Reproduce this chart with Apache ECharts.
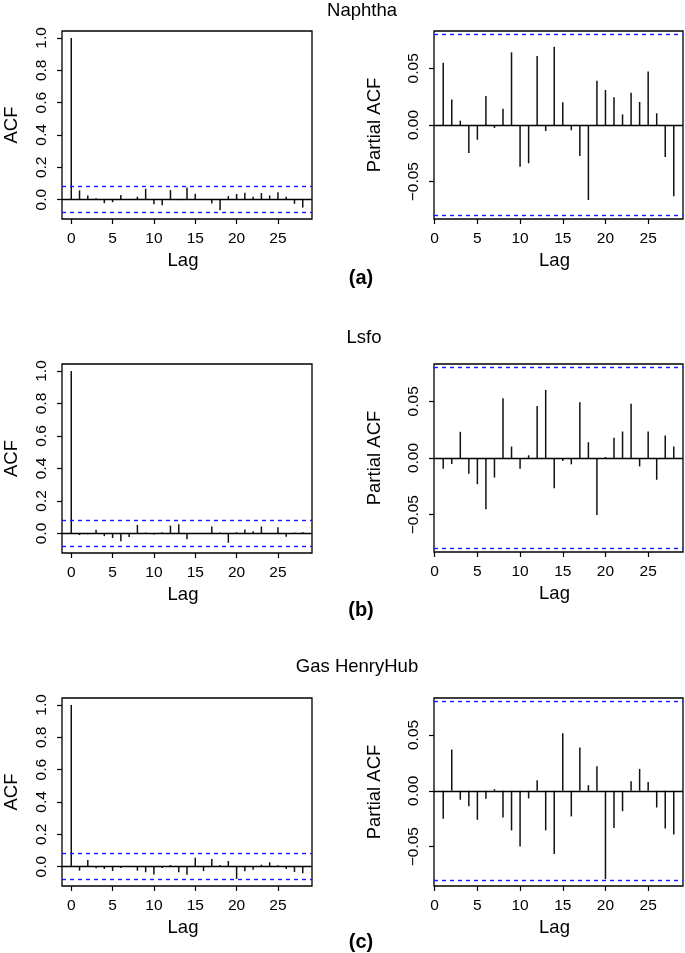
<!DOCTYPE html>
<html>
<head>
<meta charset="utf-8">
<script src="https://cdn.jsdelivr.net/npm/echarts@6/dist/echarts.min.js"></script>
<style>
  html, body { margin: 0; padding: 0; background: #fff; }
  #chart { width: 685px; height: 953px; }
</style>
</head>
<body>
<div id="chart"></div>
<script>
// lags
const acfLags = [0, 1, 2, 3, 4, 5, 6, 7, 8, 9, 10, 11, 12, 13, 14, 15, 16, 17, 18, 19, 20, 21, 22, 23, 24, 25, 26, 27, 28];
const pacfLags = [1, 2, 3, 4, 5, 6, 7, 8, 9, 10, 11, 12, 13, 14, 15, 16, 17, 18, 19, 20, 21, 22, 23, 24, 25, 26, 27, 28];

// Naphtha
const acfNaphtha = [1, 0.057, 0.026, 0.008, -0.022, -0.016, 0.028, -0.002, 0.018, 0.067, -0.028, -0.035, 0.059, -0.003, 0.075,
  0.036, -0.002, -0.024, -0.065, 0.022, 0.035, 0.043, 0.018, 0.041, 0.026, 0.045, 0.018, -0.026, -0.049];
const pacfNaphtha = [0.055, 0.0226, 0.0038, -0.0247, -0.013, 0.0256, -0.0026, 0.0144, 0.0641, -0.0368, -0.0338, 0.0609, -0.0053, 0.0691,
  0.020, -0.0047, -0.0274, -0.0662, 0.0391, 0.0309, 0.0244, 0.0094, 0.0285, 0.0203, 0.0471, 0.0103, -0.0282, -0.0629];

// Lsfo
const acfLsfo = [1, -0.009, -0.005, 0.023, -0.016, -0.028, -0.047, -0.022, 0.053, 0.006, -0.006, 0.008, 0.049, 0.057, -0.035,
  0.001, -0.003, 0.043, 0.006, -0.057, 0.008, 0.025, 0.014, 0.043, 0.002, 0.038, -0.02, 0.006, 0.008];
const pacfLsfo = [-0.0095, -0.0053, 0.0231, -0.0139, -0.0231, -0.0453, -0.0172, 0.0527, 0.0101, -0.0095, 0.0024, 0.0459, 0.0601, -0.0266,
  -0.0027, -0.0056, 0.0491, 0.0139, -0.0503, 0.0009, 0.0178, 0.0234, 0.0479, -0.0074, 0.0234, -0.0192, 0.0198, 0.0101];

// Gas HenryHub
const acfGas = [1, -0.025, 0.041, -0.010, -0.014, -0.027, -0.008, 0.002, -0.025, -0.035, -0.049, -0.008, 0.010, -0.035, -0.051,
  0.055, -0.028, 0.047, 0.010, 0.035, -0.076, -0.028, -0.020, 0.012, 0.027, 0.008, -0.014, -0.033, -0.041];
const pacfGas = [-0.025, 0.0369, -0.008, -0.0137, -0.0259, -0.0071, 0.0015, -0.0238, -0.0354, -0.0497, -0.0068, 0.0095, -0.0354, -0.0565,
  0.0515, -0.0229, 0.0387, 0.0051, 0.022, -0.0789, -0.0333, -0.0182, 0.0086, 0.0196, 0.008, -0.0149, -0.0336, -0.039];

// confidence bound (1.96/sqrt(n))
const ciBound = 0.0768;

// tick labels
const lagTicks = [0, 5, 10, 15, 20, 25];
const acfTicks = [0, 0.2, 0.4, 0.6, 0.8, 1.0];
const acfTickLabels = ['0.0', '0.2', '0.4', '0.6', '0.8', '1.0'];
const pacfTicks = [-0.05, 0, 0.05];
const pacfTickLabels = ['\u22120.05', '0.00', '0.05'];

const seriesTitles = ['Naphtha', 'Lsfo', 'Gas HenryHub'];
const panelTags = ['(a)', '(b)', '(c)'];

const FONT = "'Liberation Sans', Arial, Helvetica, sans-serif";

// R style 4% range expansion
const rLim = (vals) => {
  const lo = Math.min(-ciBound, ...vals), hi = Math.max(ciBound, ...vals);
  const d = (hi - lo) * 0.04;
  return [lo - d, hi + d];
};

const panels = [
  { lags: acfLags, vals: acfNaphtha, acf: true, left: 62, top: 31, width: 250, height: 188 },
  { lags: pacfLags, vals: pacfNaphtha, acf: false, left: 434, top: 31, width: 249, height: 188 },
  { lags: acfLags, vals: acfLsfo, acf: true, left: 62, top: 364, width: 250, height: 189 },
  { lags: pacfLags, vals: pacfLsfo, acf: false, left: 434, top: 364, width: 249, height: 188 },
  { lags: acfLags, vals: acfGas, acf: true, left: 62, top: 698, width: 250, height: 188 },
  { lags: pacfLags, vals: pacfGas, acf: false, left: 434, top: 698, width: 249, height: 188 }
];

const grid = [], xAxis = [], yAxis = [], series = [];

panels.forEach((p, i) => {
  grid.push({
    left: p.left, top: p.top, width: p.width, height: p.height,
    show: true, borderColor: '#000', borderWidth: 1.3, backgroundColor: 'transparent'
  });
  const xr = p.acf ? [-1.12, 29.12] : [-0.08, 29.08];
  xAxis.push({
    type: 'value', gridIndex: i, min: xr[0], max: xr[1],
    name: 'Lag', nameLocation: 'middle', nameGap: 32,
    nameTextStyle: { fontFamily: FONT, fontSize: 18.5, color: '#000', padding: [0, 8, 0, 0] },
    axisLine: { show: false, onZero: false },
    splitLine: { show: false },
    axisTick: { show: true, customValues: lagTicks, length: 5, lineStyle: { color: '#000', width: 1.2 } },
    axisLabel: { customValues: lagTicks, fontFamily: FONT, fontSize: 15.5, color: '#000', margin: 12 }
  });
  const yr = rLim(p.vals);
  const ticks = p.acf ? acfTicks : pacfTicks;
  const labels = p.acf ? acfTickLabels : pacfTickLabels;
  yAxis.push({
    type: 'value', gridIndex: i, min: yr[0], max: yr[1],
    name: p.acf ? 'ACF' : 'Partial ACF', nameLocation: 'middle', nameGap: p.acf ? 41 : 50,
    nameTextStyle: { fontFamily: FONT, fontSize: 18.5, color: '#000' },
    axisLine: { show: false, onZero: false },
    splitLine: { show: false },
    axisTick: { show: true, customValues: ticks, length: 5, lineStyle: { color: '#000', width: 1.2 } },
    axisLabel: {
      customValues: ticks, rotate: 90, fontFamily: FONT, fontSize: 15.5, color: '#000', margin: 12,
      formatter: (v) => {
        const k = ticks.findIndex(t => Math.abs(t - v) < 1e-9);
        return k >= 0 ? labels[k] : '';
      }
    }
  });
  series.push({
    type: 'custom', xAxisIndex: i, yAxisIndex: i, silent: true, clip: true,
    data: p.lags.map((l, k) => [l, p.vals[k]]),
    renderItem: (params, api) => {
      const a = api.coord([api.value(0), 0]);
      const b = api.coord([api.value(0), api.value(1)]);
      return {
        type: 'line',
        shape: { x1: a[0], y1: a[1], x2: b[0], y2: b[1] },
        style: { stroke: '#111', lineWidth: 1.5 }
      };
    },
    markLine: {
      silent: true, symbol: 'none', animation: false,
      label: { show: false },
      data: [
        { yAxis: 0, lineStyle: { color: '#000', type: 'solid', width: 1.3 } },
        { yAxis: ciBound, lineStyle: { color: '#1a1aff', type: [4, 4], width: 1.4 } },
        { yAxis: -ciBound, lineStyle: { color: '#1a1aff', type: [4, 4], width: 1.4 } }
      ]
    }
  });
});

const titleY = [11, 338, 667];
const titleX = [362, 364, 357];
const tagY = [278, 610, 942];
const graphic = [];
seriesTitles.forEach((t, i) => {
  graphic.push({
    type: 'text', x: titleX[i], y: titleY[i],
    style: { text: t, font: '18.5px ' + FONT, fill: '#000', textAlign: 'center', textVerticalAlign: 'middle' }
  });
  graphic.push({
    type: 'text', x: 361, y: tagY[i],
    style: { text: panelTags[i], font: 'bold 20px ' + FONT, fill: '#000', textAlign: 'center', textVerticalAlign: 'middle' }
  });
});

const chart = echarts.init(document.getElementById('chart'));
chart.setOption({
  animation: false,
  backgroundColor: '#fff',
  grid, xAxis, yAxis, series, graphic
});
</script>
</body>
</html>
